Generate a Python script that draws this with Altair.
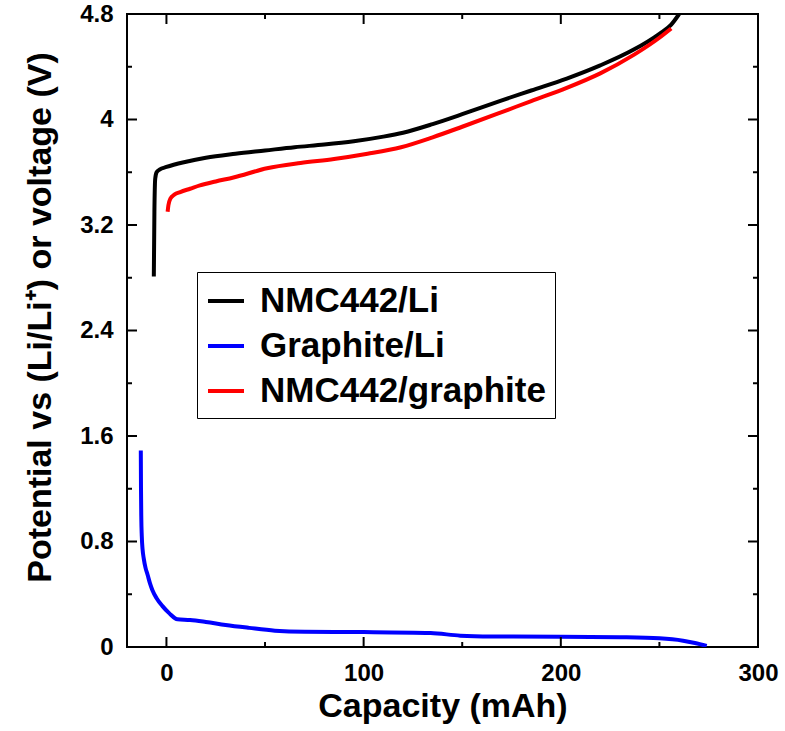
import altair as alt
import pandas as pd

# ---- data ----
series_names = ["NMC442/Li", "Graphite/Li", "NMC442/graphite"]
series_colors = ["#000000", "#0000ff", "#ff0000"]

nmc_li_cap = [-6.4, -6.1, -5.7, -5.0, -3.5, 0, 10, 20, 35, 50, 65, 80, 95, 110, 120,
              135, 150, 169, 185, 203, 220, 237, 250, 256, 260]
nmc_li_v = [2.81, 3.30, 3.55, 3.60, 3.62, 3.64, 3.68, 3.71, 3.74, 3.765, 3.79, 3.81, 3.835,
            3.87, 3.90, 3.965, 4.04, 4.14, 4.22, 4.31, 4.41, 4.53, 4.65, 4.72, 4.80]

gr_li_cap = [-13, -12.9, -12.75, -12.5, -12.1, -11.5, -10.6, -9.6, -8.3, -7.1, -5, -2, 1.5,
             5.6, 12, 20, 30, 42, 55, 70, 100, 134, 149, 165, 200, 230, 250, 262, 268, 274]
gr_li_v = [1.49, 1.20, 0.98, 0.84, 0.74, 0.67, 0.60, 0.55, 0.48, 0.43, 0.37, 0.31, 0.255,
           0.21, 0.205, 0.19, 0.167, 0.145, 0.124, 0.115, 0.113, 0.106, 0.086, 0.080,
           0.078, 0.074, 0.066, 0.048, 0.030, 0.008]

nmc_gr_cap = [0.6, 1.0, 2.0, 4.0, 7, 12, 17, 25, 34, 51, 68, 85, 102, 119, 135, 150, 169,
              185, 203, 220, 237, 250, 256]
nmc_gr_v = [3.30, 3.35, 3.40, 3.43, 3.45, 3.475, 3.50, 3.53, 3.56, 3.63, 3.67, 3.70, 3.74,
            3.79, 3.865, 3.945, 4.05, 4.14, 4.24, 4.35, 4.49, 4.62, 4.69]

x_major = [0, 100, 200, 300]
x_minor = [50, 150, 250]
y_major = [0, 0.8, 1.6, 2.4, 3.2, 4.0, 4.8]
y_minor = [0.4, 1.2, 2.0, 2.8, 3.6, 4.4]

# ---- build table ----
rows = []
for name, xs_, ys_ in zip(series_names,
                          [nmc_li_cap, gr_li_cap, nmc_gr_cap],
                          [nmc_li_v, gr_li_v, nmc_gr_v]):
    for i, (a, b) in enumerate(zip(xs_, ys_)):
        rows.append({"series": name, "cap": a, "v": b, "i": i})
df = pd.DataFrame(rows)

W, H = 631, 633
FONT = "Liberation Sans"

xs = alt.Scale(domain=[-20, 300], nice=False, zero=False)
ys = alt.Scale(domain=[0, 4.8], nice=False, zero=False)

ax_x = alt.Axis(title="Capacity (mAh)", values=x_major, ticks=False, domain=False,
                grid=False, labelPadding=14, titlePadding=4, labelFlush=False,
                labelFontSize=24, titleFontSize=34)
ax_y = alt.Axis(title="Potential vs (Li/Li⁺) or voltage (V)", values=y_major,
                ticks=False, domain=False, grid=False, labelPadding=14,
                titlePadding=22, labelFontSize=24, titleFontSize=34, labelFlush=False,
                format=".1~f", titleY=303)

lines = alt.Chart(df).mark_line(strokeWidth=4, interpolate="monotone", clip=True).encode(
    x=alt.X("cap:Q", scale=xs, axis=ax_x),
    y=alt.Y("v:Q", scale=ys, axis=ax_y),
    color=alt.Color("series:N",
                    scale=alt.Scale(domain=series_names, range=series_colors),
                    sort=series_names,
                    legend=alt.Legend(title=None, orient="none", legendX=70, legendY=258,
                                      symbolType="stroke", symbolSize=1296,
                                      symbolStrokeWidth=4, labelFontSize=35,
                                      labelFont=FONT, labelFontWeight="bold",
                                      labelColor="black", strokeColor="black",
                                      fillColor="white", padding=9, rowPadding=7,
                                      labelOffset=14, cornerRadius=0, labelLimit=500)),
    order=alt.Order("i:Q"),
)


def xticks(vals, length, top):
    d = pd.DataFrame({"cap": vals})
    y0 = 0 if top else H
    y1 = length if top else H - length
    return alt.Chart(d).mark_rule(color="black", strokeWidth=2).encode(
        x=alt.X("cap:Q", scale=xs, axis=ax_x), y=alt.value(y0), y2=alt.value(y1))


def yticks(vals, length, right):
    d = pd.DataFrame({"v": vals})
    x0 = W if right else 0
    x1 = W - length if right else length
    return alt.Chart(d).mark_rule(color="black", strokeWidth=2).encode(
        y=alt.Y("v:Q", scale=ys, axis=ax_y), x=alt.value(x0), x2=alt.value(x1))


ticks = [
    xticks(x_major, 10, False), xticks(x_minor, 5, False),
    xticks(x_major, 10, True), xticks(x_minor, 5, True),
    yticks(y_major, 10, False), yticks(y_minor, 5, False),
    yticks(y_major, 10, True), yticks(y_minor, 5, True),
]

chart = alt.layer(lines, *ticks).properties(
    width=W, height=H,
    background="white",
    autosize=alt.AutoSizeParams(type="none"),
    padding={"left": 127, "top": 14, "right": 27, "bottom": 84},
).configure_view(stroke="black", strokeWidth=2).configure_axis(
    labelFont=FONT, titleFont=FONT, labelFontWeight="bold", titleFontWeight="bold",
    labelColor="black", titleColor="black",
)

chart.save("out.html", embed_options={"renderer": "svg", "actions": False})
